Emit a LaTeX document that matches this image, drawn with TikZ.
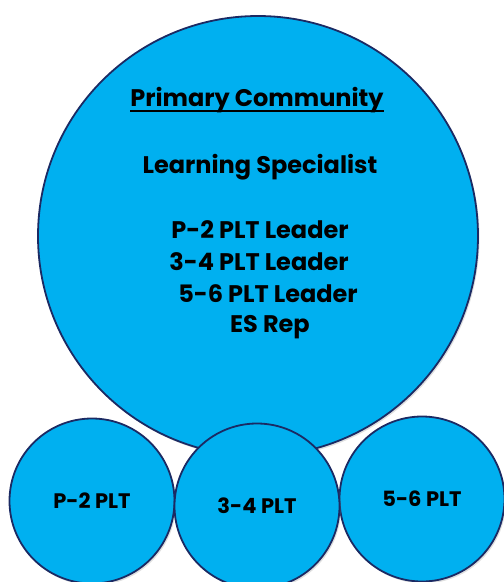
\documentclass[tikz,border=0pt]{standalone}
\usepackage{fontspec}
\setmainfont{Poppins}
\usetikzlibrary{shadows}
\definecolor{circblue}{HTML}{00B0F0}
\definecolor{circedge}{HTML}{1B2A63}
\begin{document}
\begin{tikzpicture}[x=1pt, y=-1pt,
   base_circle_style/.style={circle, draw=circedge, line width=1.8pt, fill=circblue, inner sep=0pt,
      drop shadow={shadow xshift=1.5pt, shadow yshift=-2pt, opacity=0.25}},
   big_style/.style={base_circle_style, minimum size=440pt},
   small_style/.style={base_circle_style, minimum size=165pt, font=\fontsize{21}{25}\selectfont\bfseries},
   label_style/.style={font=\fontsize{24}{28}\selectfont\bfseries, inner sep=0pt}]

    \useasboundingbox (0,0) rectangle (504,582);

    \node[big_style] (community) at (258,236) {};

    \node[label_style] (title) at (257,100) {Primary Community};
    \draw[line width=1.7pt] ([yshift=-4.5pt]title.base west) -- ([yshift=-4.5pt]title.base east);
    \node[label_style] (specialist) at (260,167) {Learning Specialist};
    \node[label_style] (lead_p2) at (260,230) {P-2 PLT Leader};
    \node[label_style] (lead_34) at (259,262) {3-4 PLT Leader};
    \node[label_style] (lead_56) at (268,294) {5-6 PLT Leader};
    \node[label_style] (es_rep) at (270,327) {ES Rep};

    \node[small_style] (plt_p2) at (92,501) {P-2 PLT};
    \node[small_style] (plt_56) at (422,499) {5-6 PLT};
    \node[small_style] (plt_34) at (257,506) {\raisebox{-3pt}{3-4 PLT}};
\end{tikzpicture}
\end{document}
